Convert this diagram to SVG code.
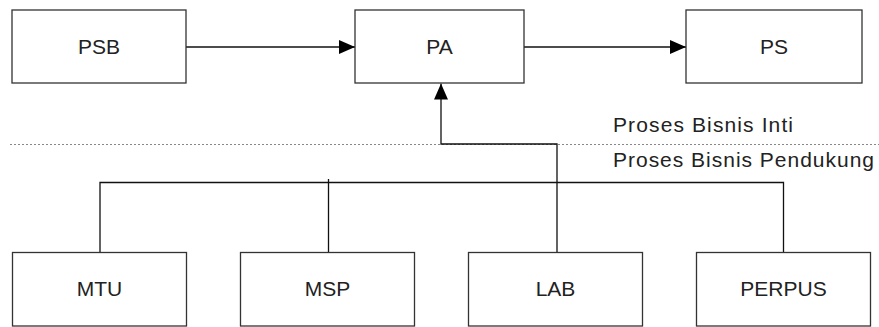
<svg xmlns="http://www.w3.org/2000/svg" width="879" height="327" viewBox="0 0 879 327">
<style>
.box{fill:#fff;stroke:#333;stroke-width:1.3}
.lbl{font-family:"Liberation Sans",Arial,sans-serif;font-size:21px;fill:#222;text-anchor:middle}
.sec{font-family:"Liberation Sans",Arial,sans-serif;font-size:21px;fill:#222}
.ln{fill:none;stroke:#111;stroke-width:1.3}
.dot{fill:none;stroke:#888;stroke-width:1;stroke-dasharray:2 2}
</style>
<defs>
<marker id="ah" viewBox="0 0 16 14" refX="16" refY="7" markerWidth="16" markerHeight="14" markerUnits="userSpaceOnUse" orient="auto">
<path d="M0,0 L16,7 L0,14 Z" fill="#000"/>
</marker>
</defs>
<line class="dot" x1="10" y1="144.5" x2="879" y2="144.5"/>
<text class="sec" x="613" y="132" textLength="180" lengthAdjust="spacing">Proses Bisnis Inti</text>
<text class="sec" x="613" y="166.5" textLength="261" lengthAdjust="spacing">Proses Bisnis Pendukung</text>
<g id="connectors">
<line class="ln" x1="186" y1="47" x2="355" y2="47" marker-end="url(#ah)"/>
<line class="ln" x1="524" y1="47" x2="686" y2="47" marker-end="url(#ah)"/>
<polyline class="ln" points="557,252.5 557,144 441,144 441,83.5" marker-end="url(#ah)"/>
<polyline class="ln" points="100,252.5 100,182.5 783.5,182.5 783.5,252.5"/>
<line class="ln" x1="328.5" y1="179" x2="328.5" y2="252.5"/>
</g>
<g id="PSB"><rect class="box" x="12" y="10" width="174" height="73"/><text class="lbl" x="99" y="54">PSB</text></g>
<g id="PA"><rect class="box" x="355" y="10" width="169" height="73"/><text class="lbl" x="439.5" y="54">PA</text></g>
<g id="PS"><rect class="box" x="686" y="10" width="176" height="73"/><text class="lbl" x="774" y="54">PS</text></g>
<g id="MTU"><rect class="box" x="12.5" y="252.5" width="174" height="73.5"/><text class="lbl" x="99.5" y="296">MTU</text></g>
<g id="MSP"><rect class="box" x="240.5" y="252.5" width="174" height="73.5"/><text class="lbl" x="327.5" y="296">MSP</text></g>
<g id="LAB"><rect class="box" x="468.5" y="252.5" width="174" height="73.5"/><text class="lbl" x="555.5" y="296">LAB</text></g>
<g id="PERPUS"><rect class="box" x="696.5" y="252.5" width="174" height="73.5"/><text class="lbl" x="783.5" y="296">PERPUS</text></g>
</svg>
